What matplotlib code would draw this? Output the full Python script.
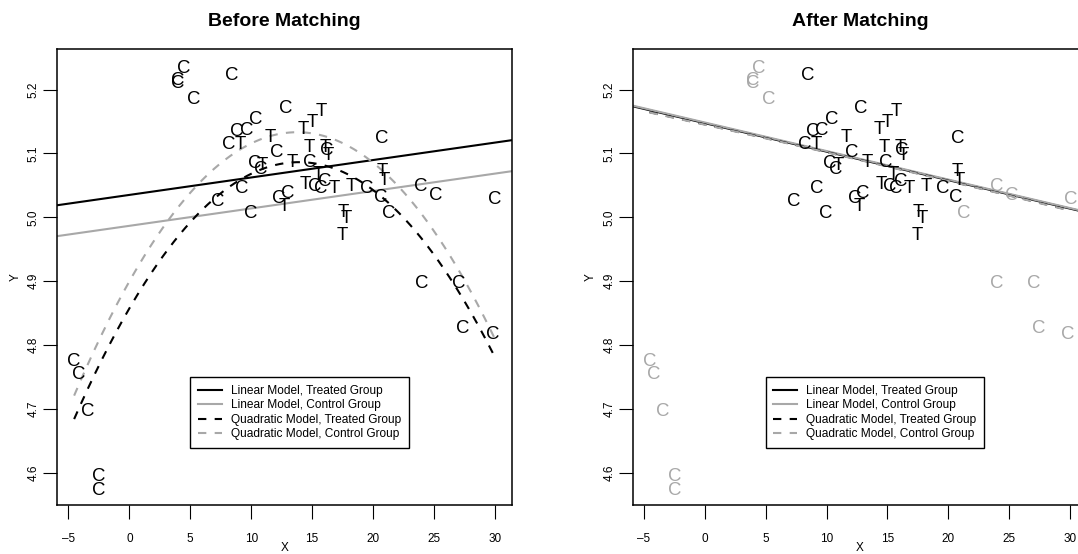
import numpy as np
import matplotlib
matplotlib.use("Agg")
import matplotlib.pyplot as plt
from matplotlib import transforms

plt.rcParams['font.family'] = ['Liberation Sans', 'DejaVu Sans']

# treated units, drawn as "T"
treat_x = [9.12, 11.6, 14.3, 15.02, 15.72, 14.73, 16.05, 16.3, 10.93, 13.37,
           15.5, 14.47, 16.8, 18.2, 20.75, 20.9, 12.7, 17.55, 17.82, 17.45]
treat_y = [5.118, 5.128, 5.141, 5.151, 5.169, 5.113, 5.113, 5.100, 5.084, 5.089,
           5.070, 5.055, 5.049, 5.051, 5.075, 5.061, 5.020, 5.011, 5.002, 4.975]

# control units, drawn as "C"; matched ones stay black after matching
ctrl_x = [4.45, 3.95, 3.98, 5.27, 21.25, 23.95, 25.18, 30.0, 24.0, 27.02,
          27.38, 29.8, -4.53, -4.18, -3.42, -2.48, -2.48,
          8.43, 12.8, 10.4, 9.62, 8.85, 8.17, 12.1, 16.2, 10.3, 10.75,
          14.84, 15.18, 15.68, 16.05, 19.52, 20.62, 20.75, 9.22, 7.28, 9.94,
          12.3, 12.97]
ctrl_y = [5.237, 5.218, 5.213, 5.187, 5.010, 5.052, 5.038, 5.031, 4.900, 4.900,
          4.829, 4.820, 4.778, 4.757, 4.699, 4.598, 4.576,
          5.226, 5.173, 5.156, 5.140, 5.137, 5.117, 5.105, 5.108, 5.088, 5.078,
          5.089, 5.052, 5.049, 5.060, 5.049, 5.035, 5.127, 5.048, 5.028, 5.009,
          5.033, 5.040]
ctrl_matched = [False] * 17 + [True] * 22

# fitted model coefficients
before_lin = {'treat': (5.035, 0.00273), 'ctrl': (4.9866, 0.002725)}
before_quad = {'treat': (4.8573, 0.03289, -0.001181), 'ctrl': (4.8996, 0.0339, -0.00123)}
after_lin = {'treat': (5.1474, -0.004464), 'ctrl': (5.1484, -0.00447)}
after_quad = {'treat': (5.1455, -0.00425, -0.000008), 'ctrl': (5.1450, -0.00425, -0.000008)}

legend_labels = ['Linear Model, Treated Group', 'Linear Model, Control Group',
                 'Quadratic Model, Treated Group', 'Quadratic Model, Control Group']
xticks = [-5, 0, 5, 10, 15, 20, 25, 30]
yticks = [4.6, 4.7, 4.8, 4.9, 5.0, 5.1, 5.2]

GRAY = '#A8A8A8'
W, H = 1078, 554
fig = plt.figure(figsize=(W / 100, H / 100), dpi=100)

all_x = np.array(treat_x + ctrl_x)
all_y = np.array(treat_y + ctrl_y)


def rlim(v):
    lo, hi = v.min(), v.max()
    d = 0.04 * (hi - lo)
    return lo - d, hi + d


def panel(left_px, title, lin, quad, after):
    ax = fig.add_axes([left_px / W, 49 / H, 454.4 / W, 456 / H])
    ax.set_xlim(*rlim(all_x))
    ax.set_ylim(*rlim(all_y))
    off = transforms.offset_copy(ax.transData, fig=fig, y=-4.8, units='points')
    for x, y in zip(treat_x, treat_y):
        ax.text(x, y, 'T', transform=off, ha='center', va='baseline',
                fontsize=13.4, color='black', clip_on=True)
    for x, y, m in zip(ctrl_x, ctrl_y, ctrl_matched):
        col = 'black' if (m or not after) else GRAY
        ax.text(x, y, 'C', transform=off, ha='center', va='baseline',
                fontsize=13.4, color=col, clip_on=True)

    xs = np.linspace(all_x.min(), all_x.max(), 300)
    h = []
    h.append(ax.axline((0, lin['treat'][0]), slope=lin['treat'][1], color='black', lw=1.5))
    h.append(ax.axline((0, lin['ctrl'][0]), slope=lin['ctrl'][1], color=GRAY, lw=1.5))
    a, b, c = quad['treat']
    h.append(ax.plot(xs, a + b * xs + c * xs ** 2, color='black', lw=1.5, dashes=(4, 4))[0])
    a, b, c = quad['ctrl']
    h.append(ax.plot(xs, a + b * xs + c * xs ** 2, color=GRAY, lw=1.5, dashes=(4, 4))[0])

    leg = ax.legend(h, legend_labels, loc='upper left', bbox_to_anchor=(5, 4.75),
                    bbox_transform=ax.transData, fontsize=8.6, frameon=True,
                    fancybox=False, edgecolor='black', framealpha=1,
                    borderpad=0.65, borderaxespad=0, handlelength=2.0,
                    handletextpad=0.75, labelspacing=0.21)
    leg.get_frame().set_linewidth(1.0)

    ax.set_xticks(xticks, labels=[str(v).replace('-', '\u2013') for v in xticks], fontsize=8.5)
    ax.set_yticks(yticks, labels=[f'{v:.1f}' for v in yticks], fontsize=8.5,
                  rotation=90, va='center')
    ax.tick_params(axis='x', direction='out', length=10, width=0.8, pad=10.5)
    ax.tick_params(axis='y', direction='out', length=10, width=0.8, pad=2.6)
    for s in ax.spines.values():
        s.set_linewidth(1.1)

    ax.annotate(title, xy=(0.5, 1), xycoords='axes fraction', xytext=(0, 28),
                textcoords='offset pixels', ha='center', va='center',
                fontsize=14, fontweight='bold')
    ax.annotate('X', xy=(0.5, 0), xycoords='axes fraction', xytext=(0, -43),
                textcoords='offset pixels', ha='center', va='center', fontsize=8.5)
    ax.annotate('Y', xy=(0, 0.5), xycoords='axes fraction', xytext=(-42, 0),
                textcoords='offset pixels', ha='center', va='center',
                fontsize=8.5, rotation=90)
    return ax


panel(57.3, 'Before Matching', before_lin, before_quad, False)
panel(632.7, 'After Matching', after_lin, after_quad, True)

fig.savefig('out.png', dpi=100)
